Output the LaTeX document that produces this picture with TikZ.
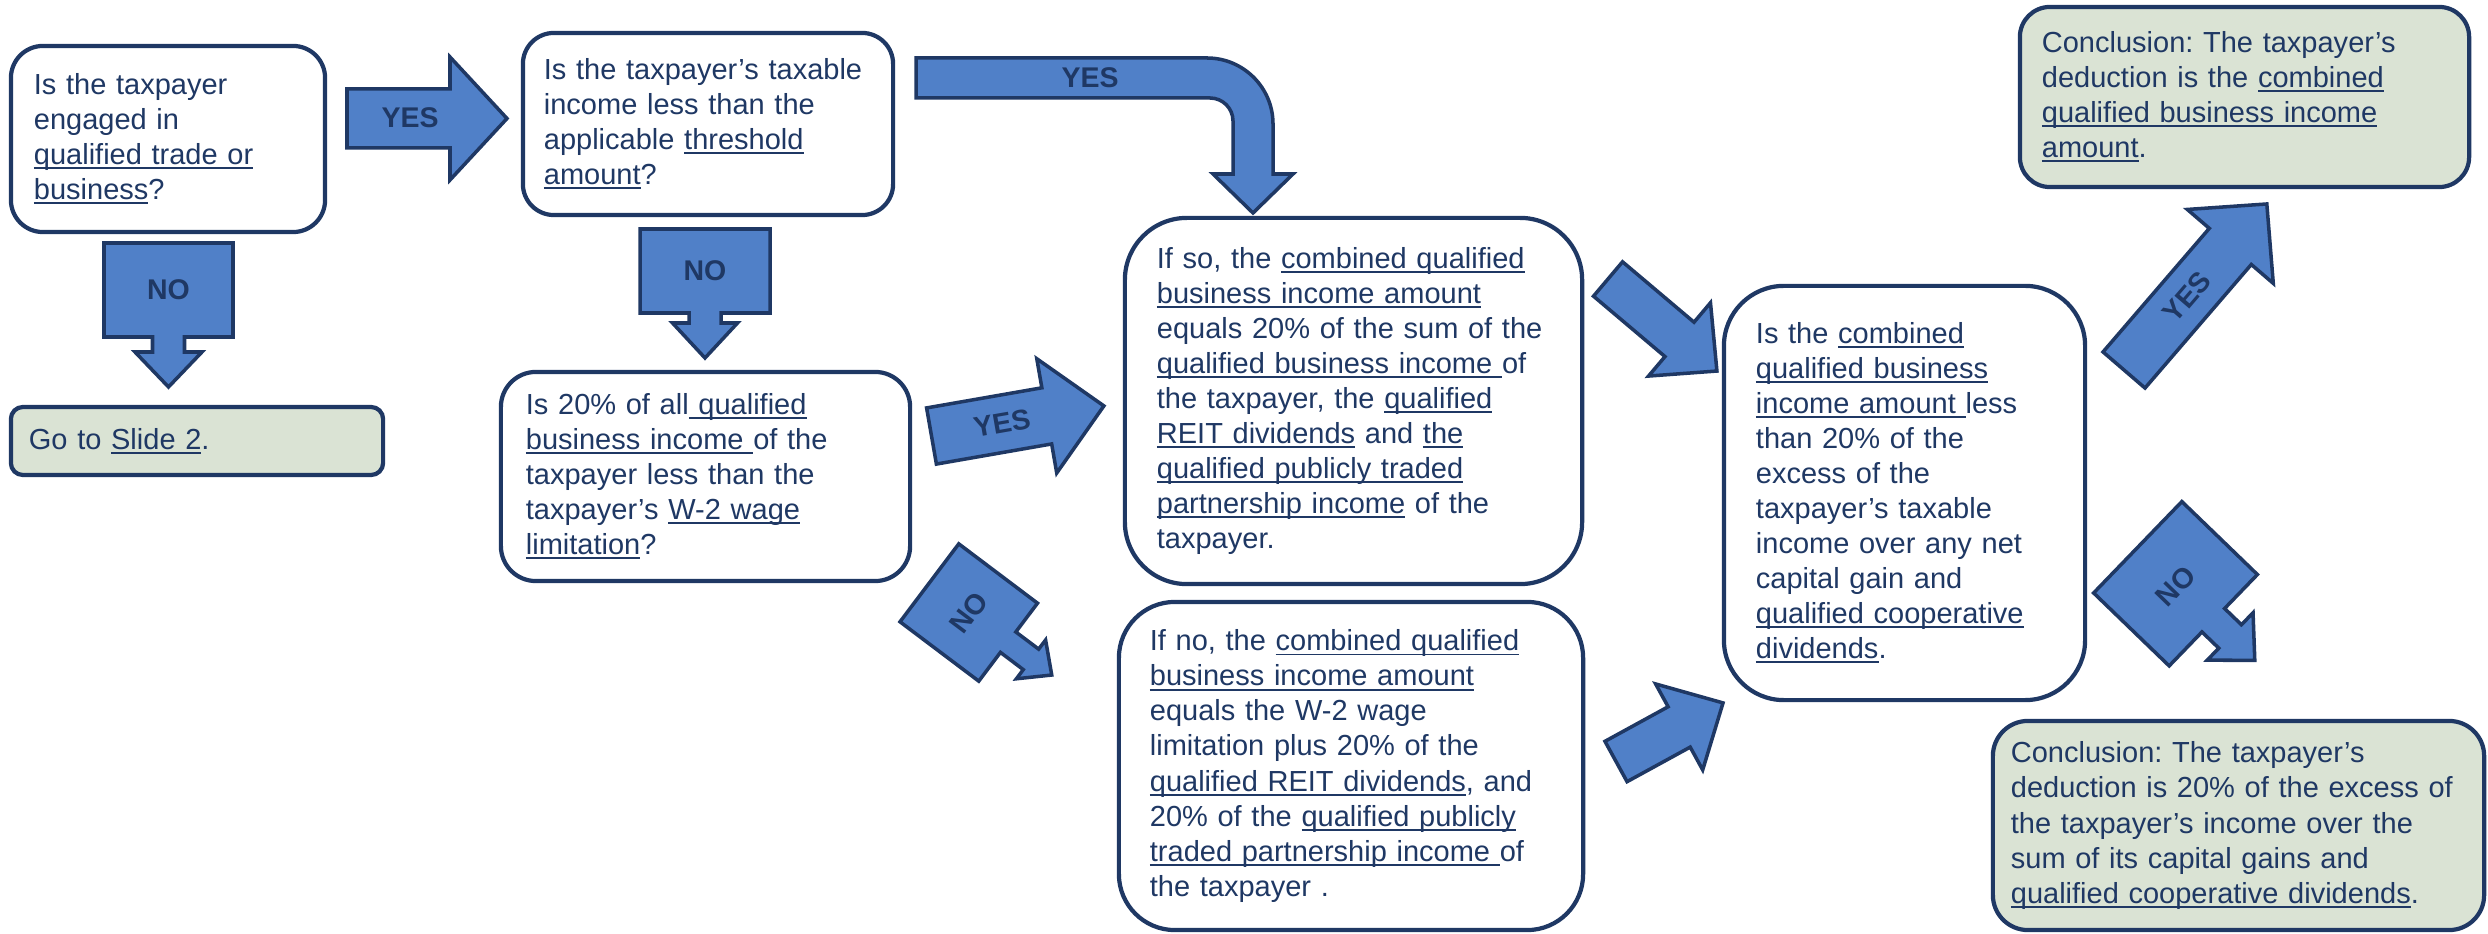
\documentclass[tikz,border=0pt]{standalone}
\usepackage{fontspec}
\setmainfont{Liberation Sans}
\usepackage{tikz}
\usetikzlibrary{positioning,calc}
\definecolor{navy}{RGB}{31,56,100}
\definecolor{arrowblue}{RGB}{80,128,200}
\definecolor{sage}{RGB}{218,227,212}

% underlined term
\newsavebox{\ulbox}
\newcommand{\uln}[1]{\leavevmode\sbox{\ulbox}{#1}\rlap{\rule[-1.3pt]{\wd\ulbox}{0.55pt}}\usebox{\ulbox}}

% block arrow: tail x, tail y, angle, length, half shaft, half head, head length
\newcommand{\blockarrow}[7]{%
  \draw[arrowbody, shift={(#1,#2)}, rotate=#3]
    (0,-#5) -- ({#4-#7},-#5) -- ({#4-#7},-#6) -- (#4,0)
    -- ({#4-#7},#6) -- ({#4-#7},#5) -- (0,#5) -- cycle;}

% down arrow callout: centre x, centre y, angle, width, height, half stem, stem length, half head, head length
\newcommand{\downcallout}[9]{%
  \draw[arrowbody, shift={(#1,#2)}, rotate=#3]
    ({-#4/2},{-#5/2}) -- ({#4/2},{-#5/2}) -- ({#4/2},{#5/2}) -- (#6,{#5/2})
    -- (#6,{#5/2+#7}) -- (#8,{#5/2+#7}) -- (0,{#5/2+#7+#9})
    -- (-#8,{#5/2+#7}) -- (-#6,{#5/2+#7}) -- (-#6,{#5/2}) -- ({-#4/2},{#5/2}) -- cycle;}

\begin{document}
\begin{tikzpicture}[x=0.01cm, y=-0.01cm,
  box/.style={draw=navy, line width=1.2pt, fill=white, text=navy, align=left,
    inner ysep=0pt, font=\fontsize{8.25}{9.96}\selectfont\frenchspacing},
  endbox/.style={box, fill=sage},
  arrowbody/.style={draw=navy, line width=1pt, fill=arrowblue, line join=miter},
  lbl/.style={text=navy, inner sep=0pt, font=\bfseries\fontsize{8.1}{9.7}\selectfont}]
\useasboundingbox (0,0) rectangle (2488,934);

% Questions
\node[box, minimum width=3.14cm, minimum height=1.86cm, rounded corners=0.32cm,
  text width=2.68cm, inner xsep=0.23cm] (trade) at (168,139)
  {Is the taxpayer\\ engaged in\\ \uln{qualified trade or}\\ \uln{business}?};
\node[box, minimum width=3.70cm, minimum height=1.82cm, rounded corners=0.31cm,
  text width=3.28cm, inner xsep=0.21cm] (threshold) at (708,124)
  {Is the taxpayer’s taxable\\ income less than the\\ applicable \uln{threshold}\\ \uln{amount}?};
\node[endbox, minimum width=3.72cm, minimum height=0.68cm, rounded corners=0.12cm,
  text width=3.36cm, inner xsep=0.18cm] (slide) at (197,441)
  {Go to \uln{Slide 2}.};
\node[box, minimum width=4.09cm, minimum height=2.09cm, rounded corners=0.35cm,
  text width=3.59cm, inner xsep=0.25cm] (wage) at (705.5,476.5)
  {Is 20\% of all\uln{\ qualified}\\ \uln{business income\ }of the\\ taxpayer less than the\\ taxpayer’s \uln{W-2 wage}\\ \uln{limitation}?};

% Results
\node[box, minimum width=4.57cm, minimum height=3.66cm, rounded corners=0.62cm,
  text width=3.93cm, inner xsep=0.32cm] (ifso) at (1353.5,401)
  {If so, the \uln{combined qualified}\\ \uln{business income amount}\\ equals 20\% of the sum of the\\ \uln{qualified business income\ }of\\ the taxpayer, the \uln{qualified}\\ \uln{REIT dividends} and \uln{the}\\ \uln{qualified publicly traded}\\ \uln{partnership income} of the\\ taxpayer.};
\node[box, minimum width=4.64cm, minimum height=3.28cm, rounded corners=0.56cm,
  text width=4.02cm, inner xsep=0.31cm] (ifno) at (1351,766)
  {If no, the \uln{combined qualified}\\ \uln{business income amount}\\ equals the W-2 wage\\ limitation plus 20\% of the\\ \uln{qualified REIT dividends}, and\\ 20\% of the \uln{qualified publicly}\\ \uln{traded partnership income\ }of\\ the taxpayer .};
\node[box, minimum width=3.61cm, minimum height=4.14cm, rounded corners=0.60cm,
  text width=2.97cm, inner xsep=0.32cm] (combined) at (1904.5,493)
  {Is the \uln{combined}\\ \uln{qualified business}\\ \uln{income amount\ }less\\ than 20\% of the\\ excess of the\\ taxpayer’s taxable\\ income over any net\\ capital gain and\\ \uln{qualified cooperative}\\ \uln{dividends}.};

% Conclusions
\node[endbox, minimum width=4.49cm, minimum height=1.80cm, rounded corners=0.30cm,
  text width=4.05cm, inner xsep=0.22cm] (concyes) at (2244.5,97)
  {Conclusion: The taxpayer’s\\ deduction is the \uln{combined}\\ \uln{qualified business income}\\ \uln{amount}.};
\node[endbox, minimum width=4.91cm, minimum height=2.09cm, rounded corners=0.35cm,
  text width=4.55cm, inner xsep=0.18cm] (concno) at (2238.5,825.5)
  {Conclusion: The taxpayer’s\\ deduction is 20\% of the excess of\\ the taxpayer’s income over the\\ sum of its capital gains and\\ \uln{qualified cooperative dividends}.};

% Yes / no arrows
\blockarrow{347}{118.5}{0}{160}{29.5}{61.5}{57}
\node[lbl] (yes1) at (410,118) {YES};
\downcallout{168.5}{290}{0}{129}{94}{16}{15}{33.5}{35}
\node[lbl] (no1) at (168.5,290) {NO};
\downcallout{705}{271}{0}{130}{84}{16}{10}{32.5}{35}
\node[lbl] (no2) at (705,271) {NO};

\draw[arrowbody] (916,58) -- (1207,58) .. controls (1243.4,58) and (1273,87.6) .. (1273,124)
  -- (1273,174) -- (1293,174) -- (1253,213) -- (1213,174) -- (1233,174) -- (1233,121)
  .. controls (1233,108.3) and (1222.7,98) .. (1210,98) -- (916,98) -- cycle;
\node[lbl] (yes2) at (1090,78) {YES};

\blockarrow{931.5}{436}{9.9}{175}{28.5}{58}{58}
\node[lbl, rotate=9.9] (yes3) at (1002,423) {YES};
\downcallout{968.75}{612.5}{53}{97.6}{98.6}{12.8}{28.6}{24.3}{26}
\node[lbl, rotate=53] (no3) at (968.75,612.5) {NO};

\blockarrow{1608}{279}{-40.2}{142.6}{22.5}{48}{49}
\blockarrow{1616}{761.5}{28.7}{122}{23}{49}{50}

\blockarrow{2124}{370}{49.3}{219}{27.7}{56.7}{56}
\node[lbl, rotate=49.3] (yes4) at (2187,297) {YES};
\downcallout{2175.5}{583.75}{46}{127}{105}{16.3}{23.4}{33}{34.3}
\node[lbl, rotate=46] (no4) at (2175.5,586) {NO};
\end{tikzpicture}
\end{document}
